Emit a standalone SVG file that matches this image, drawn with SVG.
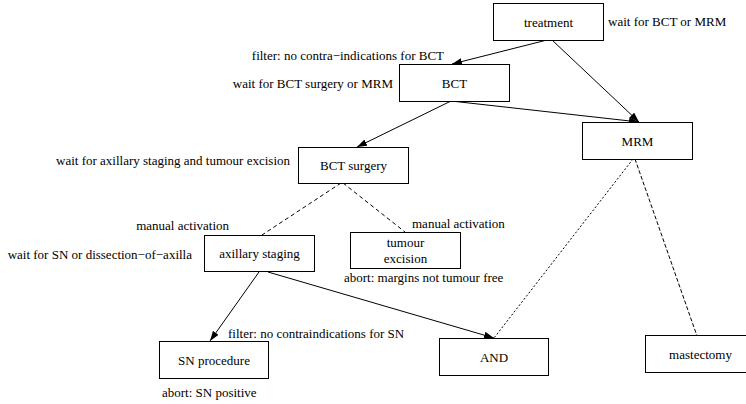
<svg xmlns="http://www.w3.org/2000/svg" width="746" height="404" viewBox="0 0 746 404">
<defs>
<marker id="ah" markerWidth="10" markerHeight="7" refX="10" refY="3.5" orient="auto" markerUnits="userSpaceOnUse">
<path d="M0,0 L10,3.5 L0,7 Z" fill="#000"/>
</marker>
</defs>
<rect x="0" y="0" width="746" height="404" fill="#fff"/>
<g id="connectors" stroke="#000" stroke-width="1" fill="none">
<line x1="547" y1="40" x2="452" y2="64" marker-end="url(#ah)"/>
<line x1="552" y1="40" x2="639" y2="122" marker-end="url(#ah)"/>
<line x1="451" y1="101" x2="639" y2="122" marker-end="url(#ah)"/>
<line x1="451" y1="101" x2="357" y2="147" marker-end="url(#ah)"/>
<line x1="341" y1="183" x2="262" y2="235" stroke-dasharray="4,3"/>
<line x1="343" y1="183" x2="405" y2="232" stroke-dasharray="4,3"/>
<line x1="259" y1="272" x2="210" y2="341" marker-end="url(#ah)"/>
<line x1="268" y1="272" x2="494" y2="338" marker-end="url(#ah)"/>
<line x1="633" y1="159" x2="494" y2="338" stroke-dasharray="2,2"/>
<line x1="635" y1="159" x2="697" y2="336" stroke-dasharray="4,2"/>
</g>
<g font-family="Liberation Serif, Times New Roman, serif" font-size="13" fill="#000">
<g id="treatment">
<rect x="493.5" y="3.5" width="110" height="37" fill="#fff" stroke="#000"/>
<text text-anchor="middle" x="548.5" y="26.5">treatment</text>
<text x="608" y="26">wait for BCT or MRM</text>
</g>
<g id="BCT">
<rect x="399.5" y="64.5" width="110" height="37" fill="#fff" stroke="#000"/>
<text text-anchor="middle" x="454.5" y="87.5">BCT</text>
<text text-anchor="end" x="444" y="60">filter: no contra−indications for BCT</text>
<text text-anchor="end" x="393" y="88">wait for BCT surgery or MRM</text>
</g>
<g id="MRM">
<rect x="582.5" y="122.5" width="110" height="37" fill="#fff" stroke="#000"/>
<text text-anchor="middle" x="637.5" y="145.5">MRM</text>
</g>
<g id="BCT_surgery">
<rect x="298.5" y="147.5" width="110" height="36" fill="#fff" stroke="#000"/>
<text text-anchor="middle" x="353.5" y="170">BCT surgery</text>
<text text-anchor="end" x="290" y="165">wait for axillary staging and tumour excision</text>
</g>
<g id="axillary_staging">
<rect x="204.5" y="235.5" width="110" height="36" fill="#fff" stroke="#000"/>
<text text-anchor="middle" x="259.5" y="258">axillary staging</text>
<text text-anchor="end" x="229" y="230">manual activation</text>
<text text-anchor="end" x="192" y="259">wait for SN or dissection−of−axilla</text>
</g>
<g id="tumour_excision">
<rect x="350.5" y="232.5" width="110" height="36" fill="#fff" stroke="#000"/>
<text text-anchor="middle" x="405.5" y="247">tumour</text>
<text text-anchor="middle" x="405.5" y="263">excision</text>
<text x="412" y="228">manual activation</text>
<text x="344" y="282">abort: margins not tumour free</text>
</g>
<g id="SN_procedure">
<rect x="159.5" y="341.5" width="109" height="37" fill="#fff" stroke="#000"/>
<text text-anchor="middle" x="214" y="364.5">SN procedure</text>
<text x="228" y="338">filter: no contraindications for SN</text>
<text x="162" y="397">abort: SN positive</text>
</g>
<g id="AND">
<rect x="439.5" y="338.5" width="109" height="37" fill="#fff" stroke="#000"/>
<text text-anchor="middle" x="494" y="361.5">AND</text>
</g>
<g id="mastectomy">
<rect x="645.5" y="335.5" width="110" height="37" fill="#fff" stroke="#000"/>
<text text-anchor="middle" x="700.5" y="358.5">mastectomy</text>
</g>
</g>
</svg>
